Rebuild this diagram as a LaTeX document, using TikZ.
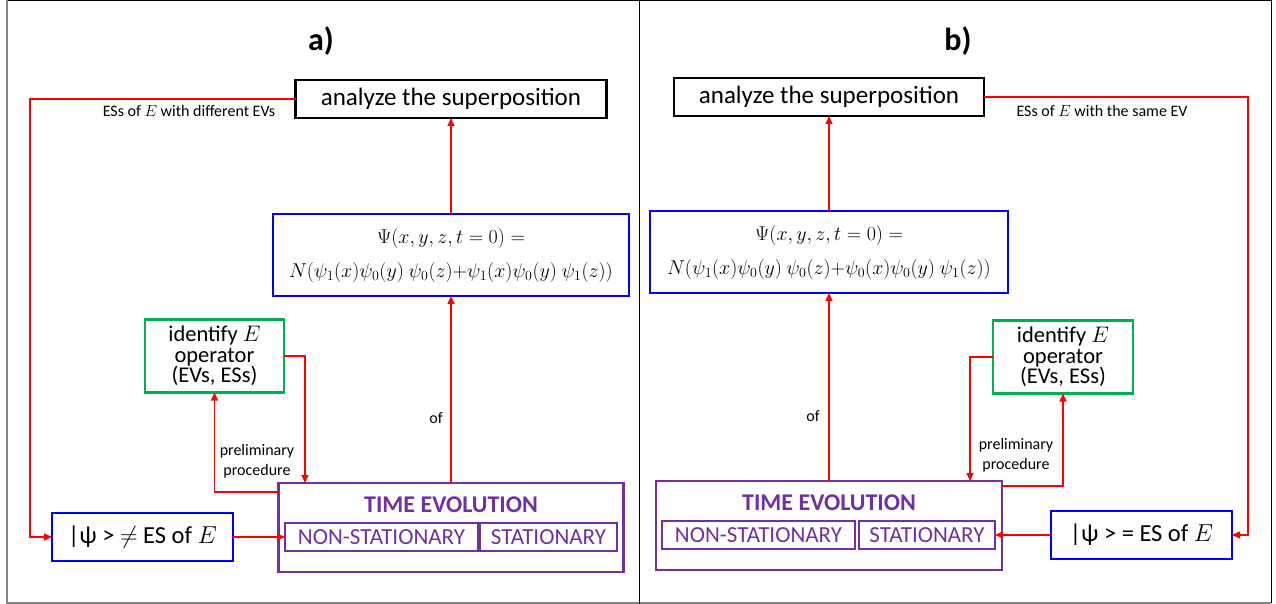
\RequirePackage{fix-cm}
\documentclass[tikz,border=0pt]{standalone}
\usepackage[no-math]{fontspec}
\setmainfont{Carlito}
\usetikzlibrary{arrows.meta}
\definecolor{cblue}{RGB}{0,0,255}
\definecolor{cgreen}{RGB}{0,176,80}
\definecolor{cpurple}{RGB}{112,48,160}
\definecolor{cred}{RGB}{255,0,0}
\definecolor{cframe}{RGB}{130,130,130}
\begin{document}
\begin{tikzpicture}[x=1pt,y=-1pt,
  every node/.style={inner sep=0pt, outer sep=0pt, align=center},
  anbox/.style={draw=black, line width=2.4pt, minimum width=#1, minimum height=38pt, font=\fontsize{25}{26}\selectfont},
  psibox/.style={draw=cblue, line width=2.8pt, minimum width=#1, minimum height=82pt, font=\fontsize{20}{34}\selectfont},
  grbox/.style={draw=cgreen, line width=2.8pt, minimum width=#1, minimum height=73pt, font=\fontsize{22.5}{20.5}\selectfont},
  tebox/.style={draw=cpurple, line width=2.8pt, minimum width=#1, minimum height=89pt},
  subbox/.style={draw=cpurple, line width=2.4pt, minimum width=#1, minimum height=28pt, text=cpurple, font=\fontsize{23}{24}\selectfont},
  tetitle/.style={text=cpurple, font=\bfseries\fontsize{24}{26}\selectfont},
  kbox/.style={draw=cblue, line width=2.8pt, minimum width=#1, minimum height=48pt, font=\fontsize{24.5}{26}\selectfont},
  lbl/.style={font=\fontsize{16}{20}\selectfont},
  hdr/.style={font=\bfseries\fontsize{32}{34}\selectfont},
  conn/.style={draw=cred, line width=1.5pt, -{Triangle[length=8pt,width=7pt]}}
]
\useasboundingbox (0,0) rectangle (1276,604);
% frame
\draw[black, line width=1pt] (7,0.5) -- (1271,0.5) -- (1271,603);
\draw[cframe, line width=1.5pt] (7,0) -- (7,603) -- (1271,603);
\draw[black, line width=0.8pt] (639,0) -- (639,604);

% ---------- panel a ----------
\node[hdr] (ha) at (321,41) {a)};
\node[anbox=311pt] (an1) at (451,99) {analyze the superposition};
\node[psibox=356pt] (psi1) at (451,255) {$\Psi(x,y,z,t=0)=$\\ $N(\psi_1(x)\psi_0(y)\ \psi_0(z){+}\psi_1(x)\psi_0(y)\ \psi_1(z))$};
\node[grbox=139pt] (gr1) at (214.5,356) {identify $E$\\operator\\(EVs, ESs)};
\node[tebox=345pt] (te1) at (451,527.5) {};
\node[tetitle] (tt1) at (451,505) {TIME EVOLUTION};
\node[subbox=193pt] (ns1) at (381.5,537) {NON-STATIONARY};
\node[subbox=137pt] (st1) at (548.5,537) {STATIONARY};
\node[kbox=181pt] (ps1) at (142.5,537) {|ψ > $\neq$ ES of $E$};

\coordinate (a1) at (30,99);
\coordinate (a2) at (305,483);
\coordinate (a3) at (279,492);
\draw[conn] (an1.west) -- (a1) |- (ps1.west);
\draw[conn] (psi1.north) -- (an1.south);
\draw[conn] (te1.north) -- (psi1.south);
\draw[conn] (gr1.east) -| (a2);
\draw[conn] (a3) -| (gr1.south);
\draw[conn] (ps1.east) -- (ns1.west);

\node[lbl] (la1) at (189,111) {ESs of $E$ with different EVs};
\node[lbl] (lof1) at (436,418) {of};
\node[lbl] (lp1) at (257,461) {preliminary\\procedure};

% ---------- panel b ----------
\node[hdr] (hb) at (958,41) {b)};
\node[anbox=310pt] (an2) at (829,97) {analyze the superposition};
\node[psibox=358pt] (psi2) at (829,252) {$\Psi(x,y,z,t=0)=$\\ $N(\psi_1(x)\psi_0(y)\ \psi_0(z){+}\psi_0(x)\psi_0(y)\ \psi_1(z))$};
\node[grbox=140pt] (gr2) at (1063,357) {identify $E$\\operator\\(EVs, ESs)};
\node[tebox=346pt] (te2) at (829,525.5) {};
\node[tetitle] (tt2) at (829,503) {TIME EVOLUTION};
\node[subbox=193pt] (ns2) at (758.5,535) {NON-STATIONARY};
\node[subbox=136pt] (st2) at (927,535) {STATIONARY};
\node[kbox=181pt] (ps2) at (1141.5,535) {|ψ > = ES of $E$};

\coordinate (b1) at (1248,97);
\coordinate (b2) at (970,481);
\coordinate (b3) at (1002,486);
\draw[conn] (an2.east) -- (b1) |- (ps2.east);
\draw[conn] (psi2.north) -- (an2.south);
\draw[conn] (te2.north) -- (psi2.south);
\draw[conn] (gr2.west) -| (b2);
\draw[conn] (b3) -| (gr2.south);
\draw[conn] (ps2.west) -- (st2.east);

\node[lbl] (la2) at (1102,111) {ESs of $E$ with the same EV};
\node[lbl] (lof2) at (813,416) {of};
\node[lbl] (lp2) at (1016,455) {preliminary\\procedure};
\end{tikzpicture}
\end{document}
